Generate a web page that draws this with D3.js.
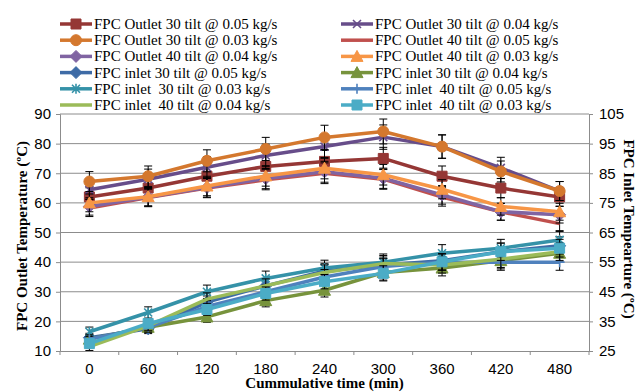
<!DOCTYPE html>
<html>
<head>
<meta charset="utf-8">
<script src="https://cdn.jsdelivr.net/npm/d3@7"></script>
<style>
  body { margin: 0; background: #fff; }
  svg { display: block; font-family: "Liberation Serif", "Times New Roman", serif; }
</style>
</head>
<body>
<div id="chart"></div>
<script>
// cumulative time (min)
const times = [0, 60, 120, 180, 240, 300, 360, 420, 480]

// outlet temperatures, left axis (ºC)
const outlet30_005 = [62, 65, 69, 72.3, 74, 75, 69, 65, 62]
const outlet30_004 = [64.4, 68, 72, 76, 79, 82.2, 79, 71.8, 64]
const outlet30_003 = [67.2, 69, 74.2, 78.2, 82.1, 84.1, 79, 70.6, 64]
const outlet40_005 = [58.3, 61.8, 65, 67.8, 70, 68, 62, 57, 53]
const outlet40_004 = [58.8, 62, 65.2, 68.2, 70.5, 68.3, 62.7, 57, 56]
const outlet40_003 = [60, 62.1, 65.7, 69.1, 71.7, 69.5, 64.6, 58.8, 57]

// inlet temperatures, right axis (ºC)
const inlet30_005 = [29.5, 32.5, 41.5, 47, 52, 54, 55.5, 58.5, 60.5]
const inlet30_004 = [29, 33, 36.5, 42, 45.5, 51.5, 53, 55.5, 58]
const inlet30_003 = [31.5, 38, 45, 49.5, 53, 55, 58, 59.7, 62.5]
const inlet40_005 = [29, 33, 40, 45, 50, 53.5, 55, 55, 55]
const inlet40_004 = [26.5, 33.5, 42.5, 47, 51.5, 54.5, 54, 56, 58.5]
const inlet40_003 = [27.5, 34.3, 39, 44.4, 48.4, 51.2, 55.1, 58.5, 59.7]

const leftTicks = [10, 20, 30, 40, 50, 60, 70, 80, 90]
const rightTicks = [25, 35, 45, 55, 65, 75, 85, 95, 105]

// series in Excel order (legend fills row by row)
const series = [
  { name: "FPC Outlet 30 tilt @ 0.05 kg/s", values: outlet30_005, axis: "L", color: "#953735", marker: "square" },
  { name: "FPC Outlet 30 tilt @ 0.04 kg/s", values: outlet30_004, axis: "L", color: "#674d8a", marker: "x" },
  { name: "FPC Outlet 30 tilt @ 0.03 kg/s", values: outlet30_003, axis: "L", color: "#d4782e", marker: "circle" },
  { name: "FPC Outlet 40 tilt @ 0.05 kg/s", values: outlet40_005, axis: "L", color: "#c0504d", marker: "none" },
  { name: "FPC Outlet 40 tilt @ 0.04 kg/s", values: outlet40_004, axis: "L", color: "#8064a2", marker: "diamond" },
  { name: "FPC Outlet 40 tilt @ 0.03 kg/s", values: outlet40_003, axis: "L", color: "#f79646", marker: "triangle" },
  { name: "FPC inlet 30 tilt @ 0.05 kg/s", values: inlet30_005, axis: "R", color: "#3e6ba6", marker: "diamond" },
  { name: "FPC inlet 30 tilt @ 0.04 kg/s", values: inlet30_004, axis: "R", color: "#77933c", marker: "triangle" },
  { name: "FPC inlet  30 tilt @ 0.03 kg/s", values: inlet30_003, axis: "R", color: "#3592a8", marker: "asterisk" },
  { name: "FPC inlet  40 tilt @ 0.05 kg/s", values: inlet40_005, axis: "R", color: "#4f81bd", marker: "plus" },
  { name: "FPC inlet  40 tilt @ 0.04 kg/s", values: inlet40_004, axis: "R", color: "#9bbb59", marker: "none" },
  { name: "FPC inlet  40 tilt @ 0.03 kg/s", values: inlet40_003, axis: "R", color: "#4bacc6", marker: "square" }
]

const W = 638, H = 392
const PLOT = { LEFT: 60, RIGHT: 589, TOP: 114, BOTTOM: 351 }

const svg = d3.select("#chart").append("svg")
  .attr("width", W)
  .attr("height", H)

const x = d3.scaleBand()
  .domain(times)
  .range([PLOT.LEFT, PLOT.RIGHT])
  .padding(0)

const yL = d3.scaleLinear().domain([10, 90]).range([PLOT.BOTTOM, PLOT.TOP])
const yR = d3.scaleLinear().domain([25, 105]).range([PLOT.BOTTOM, PLOT.TOP])
const cx = d => x(d) + x.bandwidth() / 2

// gridlines
svg.append("g")
  .selectAll("line")
  .data(leftTicks.slice(1))
  .join("line")
    .attr("x1", PLOT.LEFT).attr("x2", PLOT.RIGHT)
    .attr("y1", d => yL(d)).attr("y2", d => yL(d))
    .attr("stroke", "#8c8c8c")
    .attr("stroke-width", 1)

// left axis
const leftAxis = svg.append("g")
  .attr("transform", `translate(${PLOT.LEFT}, 0)`)
  .call(d3.axisLeft(yL).tickValues(leftTicks).tickSize(4).tickPadding(5))
leftAxis.selectAll("text").attr("font-size", "15px").attr("fill", "#000").attr("font-family", null)

// right axis
const rightAxis = svg.append("g")
  .attr("transform", `translate(${PLOT.RIGHT}, 0)`)
  .call(d3.axisRight(yR).tickValues(rightTicks).tickSize(4).tickPadding(6))
rightAxis.selectAll("text").attr("font-size", "15px").attr("fill", "#000").attr("font-family", null)

// bottom axis: labels at band centres, ticks between categories
const bottomAxis = svg.append("g")
  .attr("transform", `translate(0, ${PLOT.BOTTOM})`)
  .call(d3.axisBottom(x).tickSize(0).tickPadding(12))
bottomAxis.selectAll("text").attr("font-size", "15px").attr("fill", "#000").attr("font-family", null)
bottomAxis.selectAll(".between")
  .data(times.map(t => x(t)).concat([x.range()[1]]))
  .join("line")
    .attr("class", "between")
    .attr("x1", d => d).attr("x2", d => d)
    .attr("y1", 0).attr("y2", 4)
    .attr("stroke", "#8c8c8c")

svg.selectAll(".domain, .tick line").attr("stroke", "#8c8c8c")

// axis titles
svg.append("text")
  .attr("x", (PLOT.LEFT + PLOT.RIGHT) / 2)
  .attr("y", 388)
  .attr("text-anchor", "middle")
  .attr("font-size", "15px")
  .attr("font-weight", "bold")
  .text("Cummulative time (min)")

svg.append("text")
  .attr("transform", `translate(27, 236) rotate(-90)`)
  .attr("text-anchor", "middle")
  .attr("font-size", "15px")
  .attr("font-weight", "bold")
  .text("FPC Outlet Temperature (ºC)")

svg.append("text")
  .attr("transform", `translate(624, 229) rotate(90)`)
  .attr("text-anchor", "middle")
  .attr("font-size", "15px")
  .attr("font-weight", "bold")
  .text("FPC Inlet Tempearture (ºC)")

// marker shapes
function markerPath(type) {
  if (type === "square") return "M-5,-5H5V5H-5Z"
  if (type === "circle") return d3.symbol(d3.symbolCircle, 95)()
  if (type === "diamond") return "M0,-6L6,0L0,6L-6,0Z"
  if (type === "triangle") return "M0,-6L6,5H-6Z"
  if (type === "x") return "M-4,-4L4,4M-4,4L4,-4"
  if (type === "plus") return "M-5,0H5M0,-5V5"
  if (type === "asterisk") return "M-4,-4L4,4M-4,4L4,-4M0,-5V5"
  return null
}
const stroked = t => t === "x" || t === "plus" || t === "asterisk"

function drawMarker(sel, s) {
  const d = markerPath(s.marker)
  if (!d) return
  sel.append("path")
    .attr("d", d)
    .attr("fill", stroked(s.marker) ? "none" : s.color)
    .attr("stroke", s.color)
    .attr("stroke-width", stroked(s.marker) ? 1.6 : 1)
}

// series
series.forEach(s => {
  const y = s.axis === "L" ? yL : yR
  const g = svg.append("g")

  // error bars +/- 5%
  const eb = g.selectAll(".err")
    .data(s.values)
    .join("g")
      .attr("class", "err")
      .attr("stroke", "#000")
      .attr("stroke-width", 1)
  eb.append("line")
    .attr("x1", (d, i) => cx(times[i])).attr("x2", (d, i) => cx(times[i]))
    .attr("y1", d => y(d * 0.95)).attr("y2", d => y(d * 1.05))
  eb.append("line")
    .attr("x1", (d, i) => cx(times[i]) - 4).attr("x2", (d, i) => cx(times[i]) + 4)
    .attr("y1", d => y(d * 1.05)).attr("y2", d => y(d * 1.05))
  eb.append("line")
    .attr("x1", (d, i) => cx(times[i]) - 4).attr("x2", (d, i) => cx(times[i]) + 4)
    .attr("y1", d => y(d * 0.95)).attr("y2", d => y(d * 0.95))

  const line = d3.line()
    .x((d, i) => cx(times[i]))
    .y(d => y(d))
  g.append("path")
    .datum(s.values)
    .attr("d", line)
    .attr("fill", "none")
    .attr("stroke", s.color)
    .attr("stroke-width", 3.5)
    .attr("stroke-linejoin", "round")

  g.selectAll(".mk")
    .data(s.values)
    .join("g")
      .attr("class", "mk")
      .attr("transform", (d, i) => `translate(${cx(times[i])}, ${y(d)})`)
      .each(function() { drawMarker(d3.select(this), s) })
})

// legend, two columns
const legendCols = [60, 341]
const legendTop = 24
const legendStep = 16.2
const legend = svg.append("g")
  .selectAll("g")
  .data(series)
  .join("g")
    .attr("transform", (d, i) => `translate(${legendCols[i % 2]}, ${legendTop + Math.floor(i / 2) * legendStep})`)

legend.append("line")
  .attr("x1", 0).attr("x2", 32)
  .attr("stroke", d => d.color)
  .attr("stroke-width", 3.5)
legend.append("g")
  .attr("transform", "translate(16, 0)")
  .each(function(d) { drawMarker(d3.select(this), d) })
legend.append("text")
  .attr("x", 34)
  .attr("dy", "0.33em")
  .attr("font-size", "15px")
  .attr("xml:space", "preserve")
  .style("white-space", "pre")
  .text(d => d.name)
</script>
</body>
</html>
